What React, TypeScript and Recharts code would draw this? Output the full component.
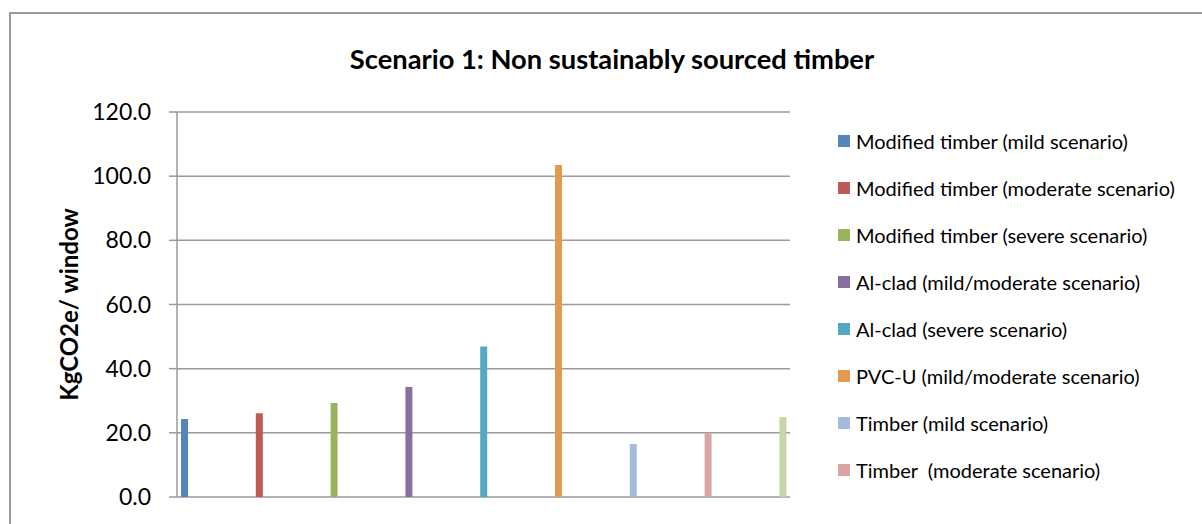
import React from 'react';
import { BarChart, Bar, XAxis, YAxis, CartesianGrid, Legend, Label } from 'recharts';

const SERIES_NAMES = [
  'Modified timber (mild scenario)',
  'Modified timber (moderate scenario)',
  'Modified timber (severe scenario)',
  'Al-clad (mild/moderate scenario)',
  'Al-clad (severe scenario)',
  'PVC-U (mild/moderate scenario)',
  'Timber (mild scenario)',
  'Timber  (moderate scenario)',
  'Timber (severe scenario)',
];

const SERIES_VALUES = [24.3, 26.1, 29.3, 34.3, 46.9, 103.5, 16.5, 19.8, 24.9];

const SERIES_COLORS = [
  '#5585BC', '#BD5A55', '#9BB25F', '#8770A0', '#52A9C1',
  '#E39A50', '#A6BAD9', '#D9A5A4', '#C5D5A5',
];

const Y_TICKS = [0, 20, 40, 60, 80, 100, 120];

const CATEGORIES = ['Scenario 1'];

// Excel only had room for the first 8 legend entries
const LEGEND_VISIBLE = 8;

const FONT = 'Lato, "Open Sans", sans-serif';
const GRID = '#9a9a9a';

const data = CATEGORIES.map(cat => {
  const row: Record<string, any> = { name: cat };
  SERIES_VALUES.forEach((v, i) => { row[`s${i}`] = v; });
  return row;
});

const LegendList: React.FC<any> = ({ payload }) => {
  // keep series order, not alphabetical
  const items = [...(payload || [])].sort(
    (a: any, b: any) => SERIES_NAMES.indexOf(a.value) - SERIES_NAMES.indexOf(b.value)
  );
  return (
    <div style={{ fontFamily: FONT }}>
      {items.slice(0, LEGEND_VISIBLE).map((entry: any, i: number) => (
        <div key={`leg-${i}`} style={{ display: 'flex', alignItems: 'center', height: 47.1 }}>
          <span style={{ width: 12, height: 12, background: entry.color, marginRight: 6, display: 'inline-block' }} />
          <span style={{ fontSize: 20, color: '#000', whiteSpace: 'pre' }}>{entry.value}</span>
        </div>
      ))}
    </div>
  );
};

const YTitle: React.FC<any> = ({ viewBox }) => {
  const cy = viewBox.y + viewBox.height / 2;
  return (
    <text
      x={68}
      y={cy}
      transform={`rotate(-90, 68, ${cy})`}
      textAnchor="middle"
      dominantBaseline="central"
      style={{ fontFamily: FONT, fontSize: 24, fontWeight: 700, fill: '#000' }}
    >
      KgCO2e/ window
    </text>
  );
};

export default function App() {
  return (
    <div style={{ position: 'absolute', left: 0, top: 0, width: 1202, height: 524, background: '#fff', overflow: 'hidden' }}>
      <div
        style={{
          position: 'absolute', left: 9, top: 12, width: 1300, height: 600,
          borderLeft: `2px solid ${GRID}`, borderTop: `2px solid ${GRID}`,
        }}
      />
      <div
        style={{
          position: 'absolute', left: 0, top: 42, width: 1224, textAlign: 'center',
          fontFamily: FONT, fontWeight: 700, fontSize: 27.3, color: '#000', lineHeight: '34px',
        }}
      >
        Scenario 1: Non sustainably sourced timber
      </div>
      <div style={{ position: 'absolute', left: 0, top: 0 }}>
        <BarChart
          width={1202}
          height={524}
          data={data}
          margin={{ top: 112, right: 412, bottom: 27, left: 117 }}
          barCategoryGap={0}
          barGap={67.8}
        >
          <CartesianGrid vertical={false} stroke={GRID} strokeWidth={1.5} />
          <XAxis dataKey="name" height={0} tick={false} tickLine={false} axisLine={{ stroke: GRID, strokeWidth: 1.5 }} />
          <YAxis
            width={60}
            domain={[0, 120]}
            ticks={Y_TICKS}
            interval={0}
            tickFormatter={(v: number) => v.toFixed(1)}
            tickSize={8}
            tickMargin={18}
            tickLine={{ stroke: GRID, strokeWidth: 1.5 }}
            axisLine={{ stroke: GRID, strokeWidth: 1.5 }}
            tick={{ fontFamily: FONT, fontSize: 23, fill: '#000' }}
          >
            <Label content={<YTitle />} />
          </YAxis>
          {SERIES_NAMES.map((name, i) => (
            <Bar
              key={`s${i}`}
              dataKey={`s${i}`}
              name={name}
              fill={SERIES_COLORS[i]}
              barSize={7}
              isAnimationActive={false}
            />
          ))}
          <Legend
            layout="vertical"
            align="center"
            verticalAlign="middle"
            content={<LegendList />}
            wrapperStyle={{ left: 838, top: 117, width: 364 }}
          />
        </BarChart>
      </div>
    </div>
  );
}
